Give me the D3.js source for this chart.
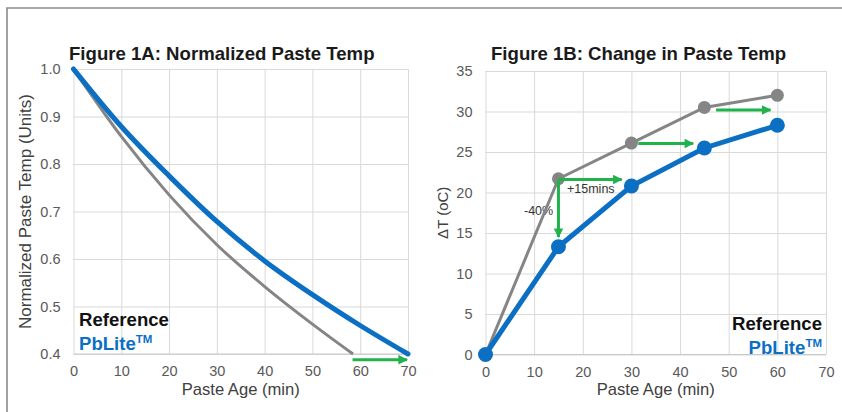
<!DOCTYPE html>
<html>
<head>
<meta charset="utf-8">
<script src="https://cdn.jsdelivr.net/npm/d3@7"></script>
<style>
  body { margin: 0; background: #fff; }
  svg { display: block; font-family: "Liberation Sans", Arial, sans-serif; }
</style>
</head>
<body>
<svg width="842" height="412"></svg>
<script>
// ---- data ----
const ageTicks = [0, 10, 20, 30, 40, 50, 60, 70]

// Figure 1A: normalized paste temp vs paste age
const refAgeA = [0, 10, 20, 30, 40, 50, 58.5]
const refTempA = [1.0, 0.858, 0.735, 0.63, 0.542, 0.463, 0.4]
const pbAgeA = [0, 10, 20, 30, 40, 50, 60, 70]
const pbTempA = [1.0, 0.879, 0.775, 0.679, 0.596, 0.525, 0.46, 0.4]
const normTicks = [0.4, 0.5, 0.6, 0.7, 0.8, 0.9, 1.0]

// Figure 1B: change in paste temp
const ageB = [0, 15, 30, 45, 60]
const refDeltaB = [0, 21.7, 26.1, 30.5, 32.0]
const pbDeltaB = [0, 13.3, 20.8, 25.5, 28.3]
const deltaTicks = [0, 5, 10, 15, 20, 25, 30, 35]

// green arrows: [x1, y1, x2, y2] in data units
const arrowsA = [[58.4, 0.388, 69.8, 0.388]]
const arrowsB = [
  [15, 21.6, 15, 14.5],
  [15, 21.6, 28, 21.6],
  [31.4, 26.05, 42.7, 26.05],
  [47.4, 30.2, 58.6, 30.2]
]

const GRAY = "#858585", BLUE = "#0b6fc4", GREEN = "#22b24c"
const svg = d3.select("svg")

// frame
svg.append("path")
  .attr("d", "M7,412 V8 H842")
  .attr("fill", "none").attr("stroke", "#8a8a8a").attr("stroke-width", 1.6)

const defs = svg.append("defs")
defs.append("marker")
  .attr("id", "head")
  .attr("viewBox", "0 0 10 10")
  .attr("refX", 9).attr("refY", 5)
  .attr("markerWidth", 3.4).attr("markerHeight", 3.2)
  .attr("markerUnits", "strokeWidth")
  .attr("orient", "auto")
  .append("path").attr("d", "M0,0 L10,5 L0,10 Z").attr("fill", GREEN)

function panel({x0, x1, y0, y1, yDomain, yTicks, yFmt, title, titleX, yTitle, yTitleX, yTitleSize}) {
  let x = d3.scaleLinear().domain([0, 70]).range([x0, x1])
  let y = d3.scaleLinear().domain(yDomain).range([y0, y1])
  let g = svg.append("g")

  g.append("g")
    .attr("transform", `translate(0,${y0})`)
    .call(d3.axisBottom(x).tickValues(ageTicks).tickSize(-(y0 - y1)).tickPadding(12))
    .call(a => a.select(".domain").remove())
    .call(a => a.selectAll("line").attr("stroke", "#d9d9d9"))
    .call(a => a.selectAll("text").attr("fill", "#595959").attr("font-size", 14.5))

  g.append("g")
    .attr("transform", `translate(${x0},0)`)
    .call(d3.axisLeft(y).tickValues(yTicks).tickFormat(yFmt).tickSize(-(x1 - x0)).tickPadding(13))
    .call(a => a.select(".domain").remove())
    .call(a => a.selectAll("line").attr("stroke", "#d9d9d9"))
    .call(a => a.selectAll("text").attr("fill", "#595959").attr("font-size", 14.5))

  g.append("line")
    .attr("x1", x0).attr("x2", x1).attr("y1", y0).attr("y2", y0)
    .attr("stroke", "#c8c8c8")

  g.append("text")
    .attr("x", titleX).attr("y", 60)
    .attr("font-size", 18.6).attr("font-weight", "bold").attr("fill", "#1a1a1a")
    .text(title)

  g.append("text")
    .attr("x", (x0 + x1) / 2).attr("y", 395)
    .attr("text-anchor", "middle")
    .attr("font-size", 16.6).attr("fill", "#404040")
    .text("Paste Age (min)")

  g.append("text")
    .attr("transform", `translate(${yTitleX},${(y0 + y1) / 2}) rotate(-90)`)
    .attr("text-anchor", "middle")
    .attr("font-size", yTitleSize).attr("fill", "#404040")
    .text(yTitle)

  return {g, x, y}
}

function arrows(p, list) {
  p.g.selectAll(".arrow")
    .data(list)
    .enter().append("line")
    .attr("class", "arrow")
    .attr("x1", d => p.x(d[0])).attr("y1", d => p.y(d[1]))
    .attr("x2", d => p.x(d[2])).attr("y2", d => p.y(d[3]))
    .attr("stroke", GREEN).attr("stroke-width", 3)
    .attr("marker-end", "url(#head)")
}

function legend(p, x, y, anchor) {
  p.g.append("text")
    .attr("x", x).attr("y", y).attr("text-anchor", anchor)
    .attr("font-size", 18.6).attr("font-weight", "bold").attr("fill", "#111")
    .text("Reference")
  let t = p.g.append("text")
    .attr("x", x).attr("y", y + 24).attr("text-anchor", anchor)
    .attr("font-size", 18.6).attr("font-weight", "bold").attr("fill", BLUE)
  t.append("tspan").text("PbLite")
  t.append("tspan").attr("font-size", 11.5).attr("dy", -7).text("TM")
}

// ---- Figure 1A ----
let a = panel({
  x0: 73.5, x1: 408, y0: 354, y1: 69,
  yDomain: [0.4, 1.0], yTicks: normTicks, yFmt: d3.format(".1f"),
  title: "Figure 1A: Normalized Paste Temp", titleX: 69,
  yTitle: "Normalized Paste Temp (Units)", yTitleX: 31, yTitleSize: 17
})
let lineA = d3.line().x(d => a.x(d[0])).y(d => a.y(d[1])).curve(d3.curveMonotoneX)
a.g.append("path")
  .datum(d3.zip(refAgeA, refTempA))
  .attr("d", lineA).attr("fill", "none").attr("stroke", GRAY).attr("stroke-width", 3)
a.g.append("path")
  .datum(d3.zip(pbAgeA, pbTempA))
  .attr("d", lineA).attr("fill", "none").attr("stroke", BLUE).attr("stroke-width", 5)
  .attr("stroke-linecap", "round")
arrows(a, arrowsA)
legend(a, 79, 326, "start")

// ---- Figure 1B ----
let b = panel({
  x0: 485.5, x1: 826, y0: 354.5, y1: 71,
  yDomain: [0, 35], yTicks: deltaTicks, yFmt: d3.format("d"),
  title: "Figure 1B: Change in Paste Temp", titleX: 491,
  yTitle: "ΔT (oC)", yTitleX: 448, yTitleSize: 15
})

b.g.append("text")
  .attr("x", 567).attr("y", 193)
  .attr("font-size", 12.5).attr("fill", "#333")
  .text("+15mins")
b.g.append("text")
  .attr("x", 524).attr("y", 215)
  .attr("font-size", 12.5).attr("fill", "#333")
  .text("-40%")

let lineB = d3.line().x(d => b.x(d[0])).y(d => b.y(d[1]))
let refB = d3.zip(ageB, refDeltaB)
let pbB = d3.zip(ageB, pbDeltaB)
b.g.append("path").datum(refB)
  .attr("d", lineB).attr("fill", "none").attr("stroke", GRAY).attr("stroke-width", 3)
b.g.selectAll(".refdot").data(refB)
  .enter().append("circle").attr("class", "refdot")
  .attr("cx", d => b.x(d[0])).attr("cy", d => b.y(d[1])).attr("r", 6.5)
  .attr("fill", GRAY)
b.g.append("path").datum(pbB)
  .attr("d", lineB).attr("fill", "none").attr("stroke", BLUE).attr("stroke-width", 5)
b.g.selectAll(".pbdot").data(pbB)
  .enter().append("circle").attr("class", "pbdot")
  .attr("cx", d => b.x(d[0])).attr("cy", d => b.y(d[1])).attr("r", 7.5)
  .attr("fill", BLUE)
arrows(b, arrowsB)
legend(b, 822, 330, "end")
</script>
</body>
</html>
